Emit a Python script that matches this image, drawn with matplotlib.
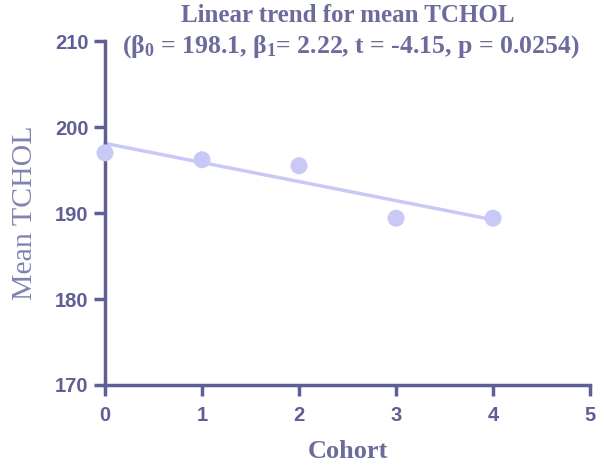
import matplotlib.pyplot as plt

# Mean TCHOL per cohort
cohort = [0, 1, 2, 3, 4]
mean_tchol = [197.0, 196.2, 195.5, 189.4, 189.4]

# Fitted linear trend (endpoints at cohort 0 and 4)
fit_x = [0, 4]
fit_y = [198.1, 189.22]

x_ticks = [0, 1, 2, 3, 4, 5]
y_ticks = [170, 180, 190, 200, 210]

AXIS_COLOR = "#5f5f96"
MARK_COLOR = "#c9c9f7"
TEXT_COLOR = "#6b6b9c"

fig = plt.figure(figsize=(6.05, 4.67), dpi=100)
ax = fig.add_axes([0.1736, 0.1756, 0.8017, 0.7364])

ax.plot(fit_x, fit_y, color=MARK_COLOR, linewidth=2.5, clip_on=False, zorder=2)
ax.scatter(cohort, mean_tchol, s=150, color=MARK_COLOR, edgecolor="none",
           clip_on=False, zorder=3)

ax.set_xlim(0, 5)
ax.set_ylim(170, 210)
ax.set_xticks(x_ticks)
ax.set_yticks(y_ticks)

# only left and bottom axes, GraphPad style
for side in ["top", "right"]:
    ax.spines[side].set_visible(False)
for side in ["left", "bottom"]:
    ax.spines[side].set_color(AXIS_COLOR)
    ax.spines[side].set_linewidth(2.5)

ax.tick_params(axis="both", direction="out", length=8, width=2.5,
               color=AXIS_COLOR, labelcolor=AXIS_COLOR)
ax.tick_params(axis="x", pad=7)
ax.tick_params(axis="y", pad=4)
for lab in ax.get_xticklabels() + ax.get_yticklabels():
    lab.set_fontfamily("Liberation Sans")
    lab.set_fontweight("bold")
    lab.set_fontsize(14.5)

ax.set_xlabel("Cohort", family="Liberation Serif", fontweight="bold",
              fontsize=19, color=TEXT_COLOR, labelpad=11)
ax.set_ylabel("Mean TCHOL", family="Liberation Serif", fontsize=21.5,
              color="#8383b3", labelpad=12)

# two-line title placed by hand (second line dips into the plot area)
fig.text(0.574, 1 - 15 / 467, "Linear trend for mean TCHOL",
         family="Liberation Serif", fontweight="bold", fontsize=18,
         color=TEXT_COLOR, ha="center", va="center")
fig.text(0.58, 1 - 47 / 467,
         r"($\mathregular{\beta_0}$ = 198.1, $\mathregular{\beta_1}$= 2.22, t = -4.15, p = 0.0254)",
         family="Liberation Serif", fontweight="bold", fontsize=18.5,
         color=TEXT_COLOR, ha="center", va="center")

fig.savefig("out.png", dpi=100)
